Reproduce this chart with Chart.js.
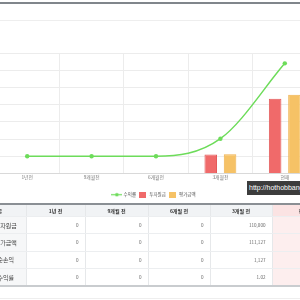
<!DOCTYPE html>
<html lang="ko">
<head>
<meta charset="utf-8">
<script src="https://cdn.jsdelivr.net/npm/chart.js@4/dist/chart.umd.min.js"></script>
<style>
  html, body { margin: 0; padding: 0; background: #fff; }
  body { width: 300px; height: 300px; overflow: hidden; position: relative; font-family: "Noto Sans CJK KR", "Noto Sans", sans-serif; }
  .topbar { position: absolute; left: 0; top: 2px; width: 300px; height: 2px; background: #80868b; }
  .topline { position: absolute; left: 0; top: 20px; width: 300px; height: 1px; background: #eeeeee; }
  #chart-box { position: absolute; left: -9px; top: 43px; width: 361px; height: 164px; }
  .mark { position: absolute; left: 247px; top: 181px; height: 14px; width: 70px; background: #3c3c3c;
          color: #fff; font: 7px "Liberation Sans", Arial, sans-serif; line-height: 14px; padding-left: 2px; white-space: nowrap; }
  table { position: absolute; left: -14px; top: 203px; width: 348px; border-collapse: collapse; table-layout: fixed;
          border-top: 2px solid #8a8f94; border-bottom: 2px solid #c9cccf; font-size: 4.6px; }
  th, td { padding: 0 6px 0 0; border-bottom: 1px solid #eceef0; border-left: 1px solid #e6e8ea; white-space: nowrap; overflow: hidden; }
  th { background: #f1f3f5; color: #333; font-weight: bold; font-size: 5px; text-align: center; height: 11px; padding: 0; }
  td { color: #666; text-align: right; height: 16.3px; }
  td.lab { background: #f6f7f8; color: #444; font-size: 6px; text-align: center; padding: 0; border-left: none; overflow: visible; }
  th.lab { border-left: none; text-align: left; padding-left: 7px; }
  .now { background: #fdeeee; }
  th.now { background: #fbe3e3; }
  .after { position: absolute; left: 0; top: 298px; width: 300px; height: 1px; background: #eeeeee; }
</style>
</head>
<body>
<div class="topbar"></div>
<div class="topline"></div>
<div id="chart-box"><canvas id="invest-chart"></canvas></div>
<div class="mark">http://hothobbang.tistory.com</div>
<table id="invest-table"></table>
<div class="after"></div>
<script>
const periods = ["1년전", "9개월전", "6개월전", "3개월전", "현재"];
const tableHeads = ["1년 전", "9개월 전", "6개월 전", "3개월 전", "현재"];
const principal = [0, 0, 0, 110000, 434000];
const evaluation = [0, 0, 0, 111127, 457500];
const returnRate = [0, 0, 0, 1.02, 5.4];

const green = "#6ddc5a";
const red = "#f06a6a";
const yellow = "#f6c266";

Chart.defaults.font.family = '"Noto Sans CJK KR", "Noto Sans", sans-serif';
Chart.defaults.font.size = 4.8;
Chart.defaults.color = "#666";

// small legend icons: line with dot, and boxes
function legendIcon(kind, color) {
    const c = document.createElement("canvas");
    const ctx = c.getContext("2d");
    if (kind === "line") {
        c.width = 11; c.height = 5;
        ctx.strokeStyle = color;
        ctx.lineWidth = 1.2;
        ctx.beginPath(); ctx.moveTo(0, 2.5); ctx.lineTo(11, 2.5); ctx.stroke();
        ctx.fillStyle = color;
        ctx.beginPath(); ctx.arc(5.5, 2.5, 1.8, 0, Math.PI * 2); ctx.fill();
    } else {
        c.width = 7; c.height = 6;
        ctx.fillStyle = color;
        ctx.fillRect(0, 0, 7, 6);
    }
    return c;
}
const icons = [legendIcon("line", green), legendIcon("box", red), legendIcon("box", yellow)];

const chart = new Chart(document.getElementById("invest-chart"), {
    type: "bar",
    data: {
        labels: periods,
        datasets: [
            {
                type: "line", label: "수익률", data: returnRate, yAxisID: "y2", order: 1,
                borderColor: green, backgroundColor: green, borderWidth: 1.5,
                pointRadius: 2.2, pointBackgroundColor: green, pointBorderWidth: 0,
                cubicInterpolationMode: "monotone", fill: false
            },
            {
                label: "투자원금", data: principal, yAxisID: "y", order: 2,
                backgroundColor: red, borderColor: "#e45a5a", borderWidth: 1,
                categoryPercentage: 0.6, barPercentage: 0.65
            },
            {
                label: "평가금액", data: evaluation, yAxisID: "y", order: 3,
                backgroundColor: yellow, borderColor: "#efb24e", borderWidth: 1,
                categoryPercentage: 0.6, barPercentage: 0.65
            }
        ]
    },
    options: {
        responsive: true,
        maintainAspectRatio: false,
        animation: false,
        layout: { padding: { top: 10, left: 0, right: 35, bottom: 0 } },
        scales: {
            x: {
                grid: { color: "#ececec", drawTicks: false, offset: true },
                border: { color: "#d9d9d9" },
                ticks: { padding: 1, color: "#777", font: { size: 4.8 } },
                afterFit(scale) { scale.height = 17; } // room between labels and legend
            },
            y: {
                min: 0, max: 700000,
                ticks: { display: false, stepSize: 100000 },
                grid: { color: "#ececec", drawTicks: false },
                border: { display: false },
                afterFit(scale) { scale.width = 0; }
            },
            y2: {
                display: false, min: -1, max: 6,
                ticks: { stepSize: 1 }
            }
        },
        plugins: {
            tooltip: { enabled: false },
            legend: {
                position: "bottom",
                labels: {
                    usePointStyle: true,
                    pointStyleWidth: 9,
                    padding: 2,
                    color: "#555",
                    font: { size: 4.5 },
                    generateLabels(c) {
                        const items = Chart.defaults.plugins.legend.labels.generateLabels(c);
                        items.forEach((it, i) => { it.pointStyle = icons[i]; });
                        return items;
                    }
                }
            }
        }
    }
});

// table below the chart
const fmt = v => v.toLocaleString("en-US");
const net = evaluation.map((v, i) => v - principal[i]);
const rows = [
    ["투자원금", principal.map(fmt)],
    ["평가금액", evaluation.map(fmt)],
    ["순손익", net.map(fmt)],
    ["수익률", returnRate.map(v => String(v))]
];
const colWidths = [40, 59, 63, 62, 62, 62];
const table = document.getElementById("invest-table");
let html = "<colgroup>" + colWidths.map(w => `<col style="width:${w}px">`).join("") + "</colgroup>";
html += `<tr><th class="lab">구분</th>` + tableHeads.map((h, i) =>
    `<th class="${i === tableHeads.length - 1 ? "now" : ""}">${h}</th>`).join("") + "</tr>";
rows.forEach(r => {
    html += `<tr><td class="lab">${r[0]}</td>` + r[1].map((v, i) =>
        `<td class="${i === r[1].length - 1 ? "now" : ""}">${v}</td>`).join("") + "</tr>";
});
table.innerHTML = html;
</script>
</body>
</html>
